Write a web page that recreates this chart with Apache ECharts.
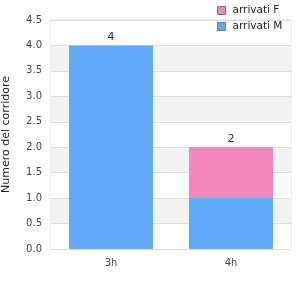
<!DOCTYPE html>
<html>
<head>
<meta charset="utf-8">
<script src="https://cdn.jsdelivr.net/npm/echarts@6/dist/echarts.min.js"></script>
<style>
html, body { margin: 0; padding: 0; background: #fff; }
#chart { width: 300px; height: 300px; }
</style>
</head>
<body>
<div id="chart"></div>
<script>
var categories = ['3h', '4h'];
var maleValues = [4, 1];
var femaleValues = [0, 1];
var totals = [4, 2];

var myChart = echarts.init(document.getElementById('chart'));

var font = '"DejaVu Sans", sans-serif';

myChart.setOption({
    animation: false,
    textStyle: {fontFamily: font},
    legend: {
        orient: 'vertical',
        left: 212,
        top: 0,
        itemWidth: 8,
        itemHeight: 8,
        itemGap: 5,
        icon: 'rect',
        data: ['arrivati F', 'arrivati M'],
        itemStyle: {borderColor: '#777', borderWidth: 1},
        textStyle: {fontFamily: font, fontSize: 10.5, color: '#222', padding: [0, 0, 0, 2]}
    },
    grid: {
        left: 51,
        right: 9,
        top: 20,
        bottom: 51,
        outerBoundsMode: 'none',
        containLabel: false,
        show: true,
        borderColor: '#ddd',
        borderWidth: 1
    },
    xAxis: {
        type: 'category',
        data: categories,
        axisTick: {show: false},
        axisLine: {lineStyle: {color: '#ddd'}},
        axisLabel: {color: '#444', fontSize: 10, margin: 9, fontFamily: font}
    },
    yAxis: {
        type: 'value',
        min: 0,
        max: 4.5,
        interval: 0.5,
        name: 'Numero del corridore',
        nameLocation: 'middle',
        nameGap: 39,
        nameTextStyle: {color: '#222', fontSize: 11, fontFamily: font},
        axisLine: {show: false},
        axisTick: {show: false},
        axisLabel: {
            color: '#444', fontSize: 10, fontFamily: font, margin: 9,
            formatter: function (v) { return v.toFixed(1); }
        },
        splitLine: {lineStyle: {color: '#ddd'}},
        splitArea: {show: true, areaStyle: {color: ['#ffffff', '#f2f2f2']}}
    },
    series: [
        {
            name: 'arrivati M',
            type: 'bar',
            stack: 'tot',
            barWidth: 84,
            data: maleValues,
            itemStyle: {color: '#60a9f6'}
        },
        {
            name: 'arrivati F',
            type: 'bar',
            stack: 'tot',
            barWidth: 84,
            data: femaleValues.map(function (v, i) {
                return {
                    value: v,
                    label: {
                        show: true,
                        position: 'top',
                        distance: 3,
                        color: '#1a1aa0',
                        fontSize: 11,
                        fontFamily: font,
                        formatter: String(totals[i])
                    }
                };
            }),
            itemStyle: {color: '#f386bd'}
        }
    ]
});
</script>
</body>
</html>
